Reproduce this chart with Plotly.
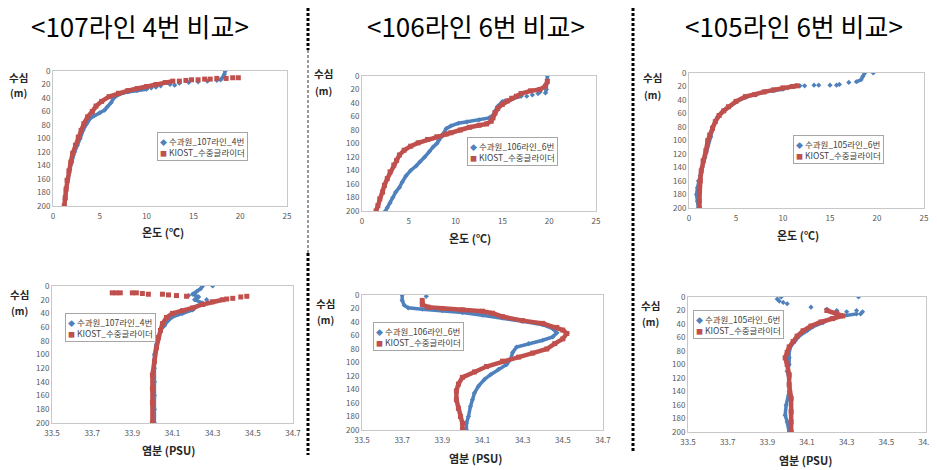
import plotly.graph_objects as go

# the page shows the figure with the browser's 8px body margin, so the figure
# is sized to the visible area and reference pixel positions are shifted by it
OFF = 8
W, H = 937 - OFF, 470 - OFF
FONT = "Noto Sans CJK KR"
BLUE = "#4F81BD"
RED = "#C0504D"

# ---------------- data ----------------
titles = ["<107라인 4번 비교>", "<106라인 6번 비교>", "<105라인 6번 비교>"]
blue_names = ["수과원_107라인_4번", "수과원_106라인_6번", "수과원_105라인_6번"]
red_name = "KIOST_수중글라이더"

temp_ticks = [0, 5, 10, 15, 20, 25]
sal_ticks = [33.5, 33.7, 33.9, 34.1, 34.3, 34.5, 34.7]
depth_ticks = [0, 20, 40, 60, 80, 100, 120, 140, 160, 180, 200]

# Panel 1 : temperature, 107 line st.4
p1_blue_line_d = [0, 5, 10, 13, None, 27, 29, 31, 35, 40, 47, 53, 58, 62, 66, 70, 78, 88, 100, 110, 120, 135, 145, 160, 175, 190, 200]
p1_blue_line_v = [18.4, 18.3, 18.1, 17.9, None, 10, 9, 8, 7, 6.5, 6.2, 5.8, 5.5, 5.0, 4.4, 4.0, 3.6, 3.2, 2.9, 2.6, 2.3, 2.0, 1.8, 1.6, 1.4, 1.3, 1.2]
p1_blue_dot_d = [14, 15, 16, 17, 18, 20, 22, 25, 21, 24]
p1_blue_dot_v = [17.5, 16.5, 15.5, 14.5, 13.5, 12.5, 11.5, 10.5, 13.0, 11.0]
p1_red_line_d = [15, 17, 20, 23, 26, 29, 33, 38, 45, 52, 60, 68, 78, 88, 98, 110, 122, 135, 148, 162, 175, 188, 200]
p1_red_line_v = [12.8, 12.0, 11.0, 10.0, 9.0, 8.0, 7.0, 6.0, 5.2, 4.6, 4.2, 3.7, 3.3, 3.0, 2.7, 2.4, 2.1, 1.9, 1.7, 1.5, 1.4, 1.3, 1.2]
p1_red_dot_d = [10, 10, 11, 11, 12, 12, 13, 13, 14, 15]
p1_red_dot_v = [19.8, 19.2, 18.5, 17.5, 16.8, 16.2, 15.5, 14.8, 14.2, 13.5]

# Panel 2 : temperature, 106 line st.6
p2_blue_line_d = [0, 5, 12, 20, 25, None, 30, 34, 38, 45, 52, 58, 62, 65, 68, 70, 74, 78, 85, 90, 95, 100, 105, 112, 120, 127, 133, 140, 148, 157, 165, 172, 180, 188, 195, 200]
p2_blue_line_v = [19.8, 19.8, 19.7, 19.7, 19.6, None, 17.0, 16.0, 15.0, 14.5, 14.2, 14.0, 13.6, 12.5, 11.2, 10.3, 9.5, 9.0, 8.7, 8.5, 8.2, 8.0, 7.6, 7.2, 6.7, 6.2, 5.8, 5.2, 4.7, 4.3, 4.0, 3.6, 3.3, 3.0, 2.7, 2.5]
p2_blue_dot_d = [26, 28, 30, 24]
p2_blue_dot_v = [18.8, 18.2, 17.6, 19.0]
p2_red_line_d = [8, 15, 20, 22, 26, 30, 33, 37, 42, 48, 55, 62, 67, 71, 73, 76, 80, 84, 86, 90, 94, 99, 104, 110, 117, 125, 132, 142, 152, 162, 172, 182, 192, 200]
p2_red_line_v = [19.8, 19.6, 19.0, 18.0, 17.0, 16.5, 16.0, 15.5, 15.0, 14.5, 14.2, 14.0, 13.8, 13.3, 12.5, 11.5, 10.5, 9.5, 9.0, 8.0, 7.0, 6.0, 5.2, 4.5, 4.0, 3.7, 3.4, 3.0, 2.7, 2.4, 2.2, 1.9, 1.7, 1.5]
p2_red_dot_d = []
p2_red_dot_v = []

# Panel 3 : temperature, 105 line st.6
p3_blue_line_d = [0, 5, 10, 13, None, 24, 26, 28, 32, 36, 43, 52, 58, 66, 78, 95, 108, 125, 140, 152, 160, 170, 180, 190, 200]
p3_blue_line_v = [18.7, 18.5, 18.3, 17.8, None, 10.0, 9.0, 8.0, 7.0, 6.0, 5.0, 4.0, 3.5, 3.0, 2.6, 2.3, 2.0, 1.7, 1.4, 1.2, 1.0, 0.9, 0.8, 0.9, 1.0]
p3_blue_dot_d = [0, 14, 17, 18, 18, 18, 18, 19, 19, 22]
p3_blue_dot_v = [19.6, 17.0, 16.0, 15.7, 15.0, 13.8, 13.3, 12.3, 11.8, 10.5]
p3_red_line_d = [19, 20, 22, 25, 28, 32, 35, 42, 50, 56, 63, 72, 82, 92, 100, 115, 130, 145, 160, 175, 190, 200]
p3_red_line_v = [11.5, 11.0, 10.0, 9.0, 8.0, 7.0, 6.0, 5.0, 4.2, 3.7, 3.2, 2.8, 2.5, 2.2, 2.0, 1.8, 1.5, 1.3, 1.2, 1.1, 1.1, 1.1]
p3_red_dot_d = []
p3_red_dot_v = []

# Panel 4 : salinity, 107 line st.4
p4_blue_line_d = [0, 4, 8, 12, 16, 20, 25, 30, 35, 40, 45, 50, 58, 65, 75, 85, 100, 120, 140, 160, 180, 200]
p4_blue_line_v = [34.25, 34.24, 34.22, 34.2, 34.23, 34.21, 34.25, 34.22, 34.2, 34.15, 34.1, 34.08, 34.06, 34.04, 34.03, 34.02, 34.01, 34.01, 34.01, 34.01, 34.01, 34.01]
p4_blue_dot_d = [0, 20, 14]
p4_blue_dot_v = [34.3, 34.27, 34.18]
p4_red_line_d = [20, 23, 27, 32, 36, 40, 46, 55, 65, 75, 90, 110, 130, 150, 170, 200]
p4_red_line_v = [34.35, 34.3, 34.25, 34.2, 34.15, 34.1, 34.07, 34.05, 34.04, 34.03, 34.02, 34.01, 34.0, 34.0, 34.0, 34.0]
p4_red_dot_d = [10, 10, 10, 10, 10, 11, 12, 12, 13, 14, 15, 15, 16, 18, 19]
p4_red_dot_v = [33.8, 33.82, 33.84, 33.9, 33.92, 33.95, 33.98, 34.05, 34.08, 34.12, 34.17, 34.47, 34.44, 34.4, 34.37]

# Panel 5 : salinity, 106 line st.6
p5_blue_line_d = [0, 8, 15, 19, 21, 23, 26, 30, 34, 39, 44, 50, 56, 62, 67, 72, 77, 85, 95, 103, 110, 118, 125, 135, 145, 155, 165, 180, 190, 200]
p5_blue_line_v = [33.7, 33.7, 33.71, 33.73, 33.8, 33.9, 34.0, 34.1, 34.2, 34.3, 34.4, 34.45, 34.47, 34.45, 34.4, 34.33, 34.27, 34.25, 34.24, 34.22, 34.18, 34.14, 34.11, 34.08, 34.06, 34.05, 34.04, 34.03, 34.02, 34.02]
p5_blue_dot_d = [2]
p5_blue_dot_v = [33.82]
p5_red_line_d = [8, 14, 18, 20, 22, 24, 27, 32, 38, 42, 48, 52, 57, 65, 72, 80, 86, 92, 98, 106, 114, 122, 132, 142, 155, 168, 180, 190, 200]
p5_red_line_v = [33.8, 33.8, 33.83, 33.9, 34.0, 34.1, 34.15, 34.2, 34.3, 34.4, 34.47, 34.5, 34.52, 34.5, 34.46, 34.42, 34.35, 34.28, 34.2, 34.12, 34.06, 34.0, 33.98, 33.97, 33.97, 33.98, 33.99, 34.0, 34.0]
p5_red_dot_d = []
p5_red_dot_v = []

# Panel 6 : salinity, 105 line st.6
p6_blue_line_d = [25, 28, 32, 38, 44, 50, 58, 65, 72, 80, 90, 100, 110, 120, 140, 160, 175, 185, 200]
p6_blue_line_v = [34.35, 34.28, 34.22, 34.18, 34.13, 34.1, 34.06, 34.04, 34.02, 34.01, 34.01, 34.01, 34.0, 34.01, 34.01, 33.995, 33.99, 34.0, 34.01]
p6_blue_dot_d = [0, 0, 3, 6, 8, 10, 15, 18, 20, 22, 20, 22, 25]
p6_blue_dot_v = [34.36, 33.97, 33.95, 33.96, 33.98, 34.0, 34.12, 34.2, 34.25, 34.3, 34.35, 34.38, 34.37]
p6_red_line_d = [20, 24, 28, 32, 37, 43, 50, 58, 66, 74, 82, 90, 100, 115, 130, 150, 170, 185, 200]
p6_red_line_v = [34.2, 34.25, 34.28, 34.23, 34.17, 34.12, 34.08, 34.05, 34.03, 34.01, 34.0, 33.99, 34.0, 34.01, 34.01, 34.02, 34.02, 34.02, 34.02]
p6_red_dot_d = []
p6_red_dot_v = []

# ---------------- layout geometry (reference pixels) ----------------
panels = [
    dict(x=(53, 287), y=(71, 206), kind="T", leg=(157, 132), yl=(18, 77), xt=(163, 232)),
    dict(x=(362, 596), y=(76, 211), kind="T", leg=(467, 137), yl=(323, 74), xt=(470, 238)),
    dict(x=(689, 924), y=(73, 208), kind="T", leg=(793, 135), yl=(652, 78), xt=(798, 235)),
    dict(x=(52, 293), y=(286, 423), kind="S", leg=(65, 313), yl=(19, 294), xt=(168, 450)),
    dict(x=(362, 603), y=(295, 430), kind="S", leg=(373, 322), yl=(325, 303), xt=(475, 458)),
    dict(x=(688, 926), y=(297, 432), kind="S", leg=(693, 310), yl=(650, 305), xt=(805, 460)),
]
data = [
    (p1_blue_line_d, p1_blue_line_v, p1_blue_dot_d, p1_blue_dot_v, p1_red_line_d, p1_red_line_v, p1_red_dot_d, p1_red_dot_v),
    (p2_blue_line_d, p2_blue_line_v, p2_blue_dot_d, p2_blue_dot_v, p2_red_line_d, p2_red_line_v, p2_red_dot_d, p2_red_dot_v),
    (p3_blue_line_d, p3_blue_line_v, p3_blue_dot_d, p3_blue_dot_v, p3_red_line_d, p3_red_line_v, p3_red_dot_d, p3_red_dot_v),
    (p4_blue_line_d, p4_blue_line_v, p4_blue_dot_d, p4_blue_dot_v, p4_red_line_d, p4_red_line_v, p4_red_dot_d, p4_red_dot_v),
    (p5_blue_line_d, p5_blue_line_v, p5_blue_dot_d, p5_blue_dot_v, p5_red_line_d, p5_red_line_v, p5_red_dot_d, p5_red_dot_v),
    (p6_blue_line_d, p6_blue_line_v, p6_blue_dot_d, p6_blue_dot_v, p6_red_line_d, p6_red_line_v, p6_red_dot_d, p6_red_dot_v),
]

fig = go.Figure()
layout = dict(width=W, height=H, margin=dict(l=0, r=0, t=0, b=0, autoexpand=False),
              paper_bgcolor="white", plot_bgcolor="white",
              font=dict(family=FONT, color="#404040"), showlegend=False)
annotations = []
shapes = []


def px(xp):
    return (xp - OFF) / W


def py(yp):
    return min(1.0, 1 - (yp - OFF) / H)


for i, (p, dd) in enumerate(zip(panels, data)):
    n = "" if i == 0 else str(i + 1)
    xa, ya = "x" + n, "y" + n
    bl_d, bl_v, bd_d, bd_v, rl_d, rl_v, rd_d, rd_v = dd
    bname = blue_names[i % 3]
    fig.add_trace(go.Scatter(x=bl_v, y=bl_d, mode="lines", xaxis=xa, yaxis=ya, name=bname,
                             line=dict(color=BLUE, width=3.5), hoverinfo="skip"))
    bx = [v for v in bl_v if v is not None] + bd_v
    by = [v for v in bl_d if v is not None] + bd_d
    fig.add_trace(go.Scatter(x=bx, y=by, mode="markers", xaxis=xa, yaxis=ya, name=bname,
                             marker=dict(color=BLUE, size=4, symbol="diamond")))
    fig.add_trace(go.Scatter(x=rl_v, y=rl_d, mode="lines", xaxis=xa, yaxis=ya, name=red_name,
                             line=dict(color=RED, width=4.5), hoverinfo="skip"))
    rx = list(rl_v) + rd_v
    ry = list(rl_d) + rd_d
    fig.add_trace(go.Scatter(x=rx, y=ry, mode="markers", xaxis=xa, yaxis=ya, name=red_name,
                             marker=dict(color=RED, size=5, symbol="square")))

    x0, x1 = p["x"]
    yt, yb = p["y"]
    if p["kind"] == "T":
        xr, xt, xtt = [0, 25], temp_ticks, "<b>온도 (℃)</b>"
        xtext = [str(t) for t in temp_ticks]
    else:
        xr, xt, xtt = [33.5, 34.7], sal_ticks, "<b>염분 (PSU)</b>"
        xtext = [f"{t:.1f}" for t in sal_ticks]
    axis_common = dict(showgrid=False, zeroline=False, showline=True, linecolor="#c8c8c8",
                       mirror=True, ticks="", automargin=False,
                       tickfont=dict(size=8, color="#595959"))
    layout["xaxis" + n] = dict(domain=[px(x0), px(x1)], range=xr, tickvals=xt, ticktext=xtext,
                               anchor=ya, ticklabelstandoff=2, **axis_common)
    layout["yaxis" + n] = dict(domain=[py(yb), py(yt)], range=[200, 0], tickvals=depth_ticks,
                               anchor=xa, **axis_common)
    lx, ly = p["leg"]
    legend_text = (f"<span style='color:{BLUE};font-size:7px'>◆</span> {bname}<br>"
                   f"<span style='color:{RED};font-size:7px'>■</span> {red_name}")
    annotations.append(dict(text=legend_text, x=px(lx), y=py(ly), xref="paper", yref="paper",
                            xanchor="left", yanchor="top", align="left", showarrow=False,
                            bgcolor="white", bordercolor="#a6a6a6", borderwidth=1, borderpad=2,
                            font=dict(size=8.5, color="#404040", family=FONT)))
    yx, yy = p["yl"]
    annotations.append(dict(text="<b>수심</b>", x=px(yx), y=py(yy), xref="paper", yref="paper",
                            xanchor="center", yanchor="middle",
                            showarrow=False, font=dict(size=10.5, color="#262626")))
    annotations.append(dict(text="<b>(m)</b>", x=px(yx), y=py(yy + 16), xref="paper", yref="paper",
                            xanchor="center", yanchor="middle",
                            showarrow=False, font=dict(size=10, color="#262626")))
    tx, ty = p["xt"]
    annotations.append(dict(text=xtt, x=px(tx), y=py(ty), xref="paper", yref="paper",
                            xanchor="center", yanchor="middle",
                            showarrow=False, font=dict(size=11, color="#262626")))

title_x = [140, 476, 794]
for t, tx in zip(titles, title_x):
    annotations.append(dict(text=t, x=px(tx), y=py(25), xref="paper", yref="paper",
                            xanchor="center", yanchor="middle",
                            showarrow=False, font=dict(size=26, color="black", family=FONT)))

thick = dict(color="black", width=3, dash="3px,2px")
thin = dict(color="#333333", width=1, dash="3px,2px")
shapes.append(dict(type="line", xref="paper", yref="paper", x0=px(308), x1=px(308), y0=1, y1=py(50), line=thick))
shapes.append(dict(type="line", xref="paper", yref="paper", x0=px(308), x1=px(308), y0=py(50), y1=py(253), line=thin))
shapes.append(dict(type="line", xref="paper", yref="paper", x0=px(308), x1=px(308), y0=py(253), y1=py(455), line=thick))
shapes.append(dict(type="line", xref="paper", yref="paper", x0=px(633), x1=px(633), y0=1, y1=py(453), line=thick))

layout["annotations"] = annotations
layout["shapes"] = shapes
fig.update_layout(**layout)
fig.write_html("out.html")
